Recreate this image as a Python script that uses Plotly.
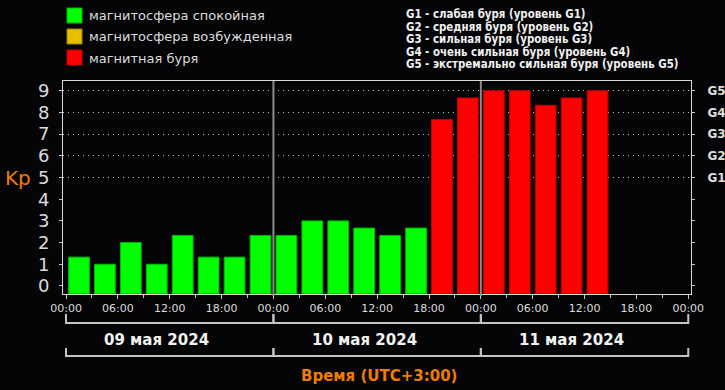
import plotly.graph_objects as go
import pandas as pd

# ---------------- data ----------------
start = "2024-05-09 00:00"
kp_values = [1.33, 1.0, 2.0, 1.0, 2.33, 1.33, 1.33, 2.33,
             2.33, 3.0, 3.0, 2.67, 2.33, 2.67, 7.67, 8.67,
             9.0, 9.0, 8.33, 8.67, 9.0]
day_starts = ["2024-05-09", "2024-05-10", "2024-05-11"]
day_labels = ["09 мая 2024", "10 мая 2024", "11 мая 2024"]
y_ticks = list(range(10))
g_levels = [5, 6, 7, 8, 9]
g_labels = ["G1", "G2", "G3", "G4", "G5"]
status_names = ["магнитосфера спокойная", "магнитосфера возбужденная", "магнитная буря"]
status_colors = ["#00ff00", "#e6c000", "#ff0000"]
status_edges = ["#00b800", "#a08400", "#c00000"]
g_descriptions = [
    "G1 - слабая буря (уровень G1)",
    "G2 - средняя буря (уровень G2)",
    "G3 - сильная буря (уровень G3)",
    "G4 - очень сильная буря (уровень G4)",
    "G5 - экстремально сильная буря (уровень G5)",
]
x_title = "Время (UTC+3:00)"
y_title = "Kp"

# ---------------- derived ----------------
Y_MIN, Y_MAX = -0.37, 9.45
slot = pd.Timedelta(hours=3)
t0 = pd.Timestamp(start)
centers = [t0 + slot * i + slot / 2 for i in range(len(kp_values))]
t_end = pd.Timestamp(day_starts[-1]) + pd.Timedelta(days=1)
X_LO = t0 - pd.Timedelta(minutes=21)
X_HI = t_end + pd.Timedelta(minutes=19)

FIG_H = 390
TOP = 81
PLOT_BOTTOM = 294
H = float(FIG_H - TOP)
W = 628.0


def py(p):
    return (FIG_H - p) / H


def px(p):
    return (p - 63) / W


def status(v):
    if v < 4:
        return 0
    if v < 5:
        return 1
    return 2


cols = [status_colors[status(v)] for v in kp_values]
edges = [status_edges[status(v)] for v in kp_values]

fig = go.Figure()
fig.add_trace(go.Bar(
    x=centers, y=[v - Y_MIN for v in kp_values], base=[Y_MIN] * len(kp_values),
    width=slot.total_seconds() * 1000 * 0.8,
    marker=dict(color=cols, line=dict(color=edges, width=1)),
    showlegend=False, hoverinfo="skip",
))
# invisible trace for right axis
fig.add_trace(go.Scatter(x=[t0], y=[0], yaxis="y2", mode="markers",
                         marker=dict(opacity=0), showlegend=False, hoverinfo="skip"))

# day brackets (strip subplot below the chart, y in pixel units)
BRACKET_LEVELS = [(314.0, 323.0), (348.0, 356.0)]
for top, bot in BRACKET_LEVELS:
    bx, by = [], []
    for d in day_starts:
        ds = pd.Timestamp(d)
        de = ds + pd.Timedelta(days=1)
        bx += [ds, ds, de, de, None]
        by += [top, bot, bot, top, None]
    fig.add_trace(go.Scatter(
        x=bx, y=by, xaxis="x2", yaxis="y3",
        mode="lines", line=dict(color="#c4c4c4", width=2),
        showlegend=False, hoverinfo="skip", connectgaps=False,
    ))

BG = "#050507"
LIGHT = "#dcdcdc"
ORANGE = "#f07c00"
FONT = "DejaVu Sans"
MAIN_DOMAIN = [py(PLOT_BOTTOM), 1]

fig.update_layout(
    width=725, height=FIG_H,
    margin=dict(l=63, r=34, t=TOP, b=0, autoexpand=False),
    paper_bgcolor=BG, plot_bgcolor="rgba(0,0,0,0)",
    font=dict(family=FONT, color=LIGHT),
    xaxis=dict(
        type="date", automargin=False, anchor="y",
        range=[X_LO, X_HI],
        tick0=t0, dtick=6 * 3600 * 1000, tickformat="%H:%M",
        ticks="outside", ticklen=4, tickcolor="#c8c8c8",
        minor=dict(dtick=3 * 3600 * 1000, ticks="outside", ticklen=3, tickcolor="#c8c8c8"),
        tickfont=dict(size=11, color=LIGHT),
        showgrid=False, zeroline=False,
        showline=True, mirror=True, linecolor="#d8d8d8", linewidth=1,
    ),
    xaxis2=dict(type="date", anchor="y3", matches="x", visible=False, showgrid=False,
                zeroline=False, range=[X_LO, X_HI]),
    yaxis=dict(
        domain=MAIN_DOMAIN,
        range=[Y_MIN, Y_MAX], tickvals=y_ticks, automargin=False,
        ticks="outside", ticklen=3, tickcolor="#c8c8c8",
        tickfont=dict(size=18, color=LIGHT),
        ticklabelstandoff=6,
        showgrid=False, zeroline=False,
        showline=True, mirror=True, linecolor="#d8d8d8", linewidth=1,
    ),
    yaxis2=dict(
        overlaying="y", side="right", range=[Y_MIN, Y_MAX], automargin=False,
        tickvals=g_levels, ticktext=g_labels,
        ticks="outside", ticklen=3, tickcolor="#c8c8c8",
        minor=dict(tickvals=y_ticks, ticks="outside", ticklen=3, tickcolor="#c8c8c8", showgrid=False),
        tickfont=dict(size=12, color=LIGHT, weight="bold"),
        ticklabelstandoff=10,
        showgrid=True, gridcolor="#bcbcbc", gridwidth=1, griddash="1px,4px",
        zeroline=False, showline=False,
    ),
    yaxis3=dict(domain=[0, py(PLOT_BOTTOM)], range=[FIG_H, PLOT_BOTTOM], anchor="x2",
                visible=False, showgrid=False, zeroline=False, fixedrange=True),
)

shapes = []
annotations = []

for i, d in enumerate(day_starts):
    ds = pd.Timestamp(d)
    if i > 0:
        shapes.append(dict(type="line", xref="x", yref="paper", x0=ds, x1=ds,
                           y0=py(296), y1=1, line=dict(color="#8c8c8c", width=2), layer="above"))
    annotations.append(dict(x=ds + pd.Timedelta(hours=12), y=py(340), xref="x", yref="paper",
                            xanchor="center", yanchor="middle", xshift=-13,
                            text=day_labels[i], showarrow=False,
                            font=dict(size=15, color="#f2f2f2", weight="bold")))

annotations.append(dict(x=0.5, y=py(376), xref="paper", yref="paper", text=x_title,
                        xanchor="center", yanchor="middle", xshift=2,
                        showarrow=False, font=dict(size=15, color=ORANGE, weight="bold")))
annotations.append(dict(x=px(18), y=5, xref="paper", yref="y", text=y_title,
                        xanchor="center", yanchor="middle",
                        showarrow=False, font=dict(size=20, color=ORANGE)))

# status legend (top-left)
for i, (name, c, e) in enumerate(zip(status_names, status_colors, status_edges)):
    top = 8 + 21 * i
    shapes.append(dict(type="rect", xref="paper", yref="paper",
                       x0=px(67), x1=px(82), y0=py(top + 15), y1=py(top),
                       fillcolor=c, line=dict(color=e, width=1)))
    annotations.append(dict(x=px(87), y=py(top + 8), xref="paper", yref="paper",
                            xanchor="left", yanchor="middle", text=name, showarrow=False,
                            font=dict(size=13, color=LIGHT)))

# G-level descriptions (top-right)
for i, txt in enumerate(g_descriptions):
    annotations.append(dict(x=px(404), y=py(14 + 12.6 * i), xref="paper", yref="paper",
                            xanchor="left", yanchor="middle", text=txt, showarrow=False,
                            font=dict(size=11.4, color="#f0f0f0", weight="bold",
                                      family="DejaVu Sans Condensed, DejaVu Sans")))

fig.update_layout(shapes=shapes, annotations=annotations)
fig.write_html("out.html", config={"displayModeBar": False},
               post_script="document.body.style.margin='0';document.body.style.padding='0';"
                           "document.body.style.background='#050507';")
